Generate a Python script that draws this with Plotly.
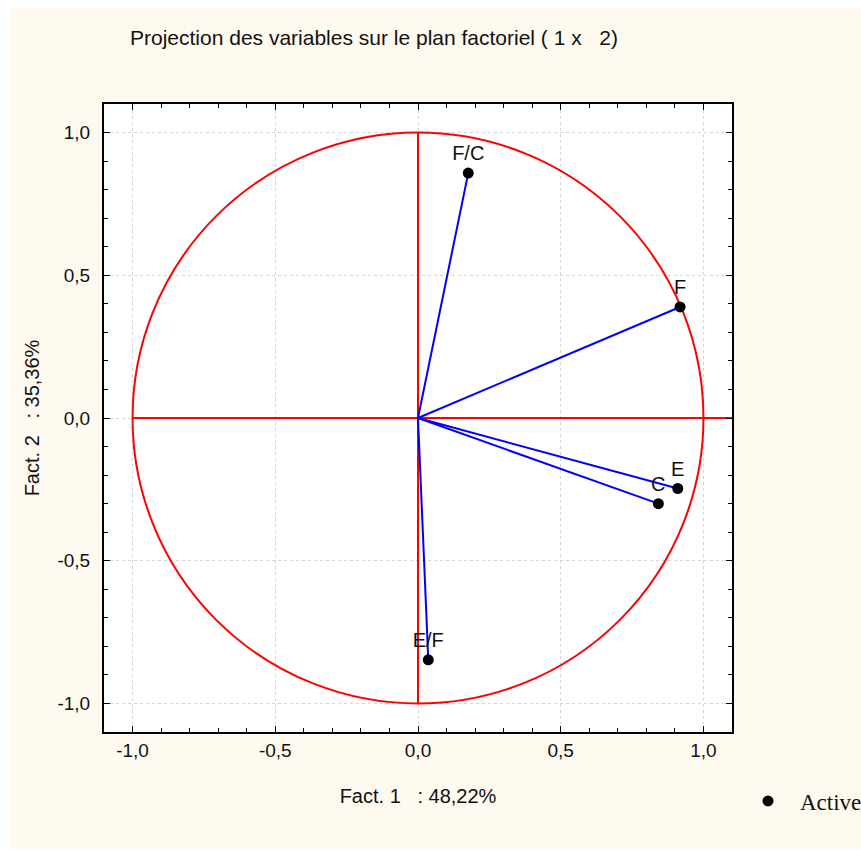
import plotly.graph_objects as go

# Variable coordinates on factorial plane (1 x 2)
variables = ["F/C", "F", "E", "C", "E/F"]
fact1 = [0.176, 0.918, 0.910, 0.842, 0.036]
fact2 = [0.858, 0.389, -0.247, -0.300, -0.847]

tick_vals = [-1.0, -0.5, 0.0, 0.5, 1.0]
tick_text = ["-1,0", "-0,5", "0,0", "0,5", "1,0"]
legend_label = "Active"

FONT = "Liberation Sans, Arial, sans-serif"
SERIF = "Liberation Serif, Times New Roman, serif"
CREAM = "#FFFAF0"

fig = go.Figure()

# Vectors from the origin to each variable
for x, y in zip(fact1, fact2):
    fig.add_trace(go.Scatter(
        x=[0, x], y=[0, y], mode="lines",
        line=dict(color="#0000FF", width=2),
        showlegend=False, hoverinfo="skip",
    ))

# Variable points with their labels (legend symbol only; label is an annotation)
fig.add_trace(go.Scatter(
    x=fact1, y=fact2, mode="markers+text",
    text=variables, textposition="top center",
    textfont=dict(family=FONT, size=20, color="#111"),
    marker=dict(color="black", size=11, symbol="circle"),
    name="",
))

# Background panels, correlation circle and axes cross
shapes = [
    dict(type="rect", xref="paper", yref="paper",
         x0=(10 - 104) / 628, x1=(861 - 104) / 628,
         y0=(732 - 849) / 628, y1=(732 - 8) / 628,
         fillcolor=CREAM, line=dict(width=0), layer="below"),
    dict(type="rect", xref="paper", yref="paper",
         x0=0, x1=1, y0=0, y1=1,
         fillcolor="white", line=dict(width=0), layer="below"),
    dict(type="circle", xref="x", yref="y", x0=-1, y0=-1, x1=1, y1=1,
         line=dict(color="#FF0000", width=2), layer="between"),
    dict(type="line", xref="x", yref="y", x0=-1, y0=0, x1=1.1, y1=0,
         line=dict(color="#FF0000", width=2), layer="between"),
    dict(type="line", xref="x", yref="y", x0=0, y0=-1, x1=0, y1=1,
         line=dict(color="#FF0000", width=2), layer="between"),
]

axis_common = dict(
    range=[-1.1, 1.1],
    tickvals=tick_vals, ticktext=tick_text,
    ticks="inside", ticklen=6, tickwidth=1, tickcolor="black",
    minor=dict(dtick=0.1, tick0=0, ticks="inside", ticklen=4,
               tickcolor="black", showgrid=False),
    showline=True, linecolor="black", linewidth=2, mirror="allticks",
    showgrid=True, gridcolor="#d4d4d4", griddash="dot", gridwidth=1,
    zeroline=False,
    tickfont=dict(family=FONT, size=19, color="#111"),
)

fig.update_layout(
    width=861, height=850,
    margin=dict(l=104, r=129, t=104, b=118),
    paper_bgcolor="white",
    plot_bgcolor="white",
    shapes=shapes,
    title=dict(
        text="Projection des variables sur le plan factoriel ( 1 x   2)",
        font=dict(family=FONT, size=21, color="#111"),
        x=130 / 861, xanchor="left", y=1 - 38 / 850, yanchor="middle",
    ),
    xaxis=dict(**axis_common, ticklabelstandoff=0,
               title=dict(text="Fact. 1   : 48,22%", standoff=29,
                          font=dict(family=FONT, size=20, color="#111"))),
    yaxis=dict(**axis_common, ticklabelstandoff=8,
               title=dict(text="Fact. 2   : 35,36%", standoff=12,
                          font=dict(family=FONT, size=20, color="#111"))),
    legend=dict(
        x=(748 - 104) / 628, xanchor="left",
        y=(732 - 801) / 628, yanchor="middle",
        bgcolor="rgba(0,0,0,0)",
        font=dict(family=SERIF, size=23, color="#111"),
    ),
    showlegend=True,
    annotations=[dict(
        text=legend_label, xref="paper", yref="paper",
        x=(798 - 104) / 628, xanchor="left",
        y=(732 - 802) / 628, yanchor="middle",
        showarrow=False,
        font=dict(family=SERIF, size=23, color="#111"),
    )],
)

fig.write_html("out.html")
